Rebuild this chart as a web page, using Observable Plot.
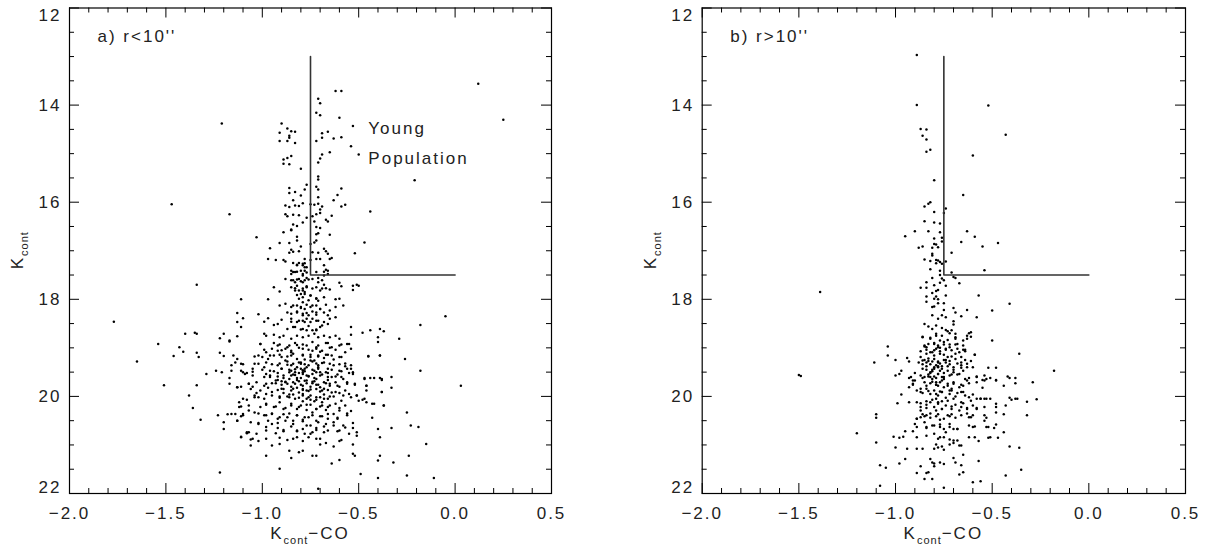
<!DOCTYPE html>
<html><head><meta charset="utf-8">
<script src="https://cdn.jsdelivr.net/npm/d3@7"></script>
<script src="https://cdn.jsdelivr.net/npm/@observablehq/plot@0.6"></script>
<style>
body{margin:0;background:#fff;}
#wrap{position:relative;width:1211px;height:552px;overflow:hidden;background:#fff;}
#wrap > div{position:absolute;top:0;}
#wrap svg text{letter-spacing:2px;}
</style></head><body>
<div id="wrap"><div id="pa" style="left:0px"></div><div id="pb" style="left:605px"></div></div>
<script>
// ---- axes / ticks ----
const xDomain = [-2, 0.5];
const yDomain = [12, 22];
const xMajor = [-2, -1.5, -1, -0.5, 0, 0.5];
const xMinor = [-1.9,-1.8,-1.7,-1.6,-1.4,-1.3,-1.2,-1.1,-0.9,-0.8,-0.7,-0.6,-0.4,-0.3,-0.2,-0.1,0.1,0.2,0.3,0.4];
const yMajor = [12, 14, 16, 18, 20, 22];
const yMinor = [12.5,13,13.5,14.5,15,15.5,16.5,17,17.5,18.5,19,19.5,20.5,21,21.5];
const yMid = [14, 16, 18, 20];
const yTop = [12];
const yBottom = [22];

// ---- selection box (young population) ----
const cutX = [-0.75, -0.75, 0.0];
const cutY = [13, 17.5, 17.5];

// ---- annotations ----
const titleA = ["a) r<10''"];
const titleB = ["b) r>10''"];
const popText = ["Young", "Population"];
const popX = [-0.45, -0.45];
const popY = [14.48, 15.10];

// ---- panel a: r < 10" (K_cont - CO, K_cont) ----
const ptsAUpper = [
[0.12,13.56],[-0.62,13.71],[-0.59,13.71],[-0.71,13.87],[-0.70,13.96],[-0.72,14.16],[-0.70,14.21],[-0.60,14.26],[-0.90,14.38],[-0.53,14.43],[-0.87,14.48],[-0.91,14.57],[-0.85,14.54],[-0.83,14.55],[-0.86,14.63],[-0.86,14.67],[-0.69,14.58],[-0.66,14.55],[-0.69,14.67],[-0.63,14.69],[-0.59,14.66],[-0.91,14.74],[-0.87,14.74],[-0.83,14.78],[-0.72,14.74],[-0.54,14.85],[-0.65,14.97],[-0.69,15.02],[-0.50,15.02],[-0.85,15.05],[-0.87,15.09],[-0.89,15.12],[-0.70,15.10],[-0.71,15.18],[-0.89,15.21],[-0.86,15.22],[-0.80,15.31],[-0.71,15.47],[-0.71,15.53],[-0.21,15.55],[-0.77,15.64],[-0.86,15.71],[-0.86,15.81],[-0.83,15.79],[-0.78,15.74],[-0.80,15.86],[-0.72,15.68],[-0.71,15.74],[-0.71,15.90],[-0.59,15.72],[-0.61,15.85],[-0.63,15.96],[-0.84,15.96],[-0.88,16.07],[-0.86,16.10],[-0.83,16.07],[-0.81,16.08],[-0.79,16.02],[-0.75,16.04],[-0.73,16.05],[-0.71,16.03],[-0.69,16.09],[-0.70,16.15],[-0.59,16.09],[-0.57,16.05],[-0.44,16.19],[-0.88,16.25],[-0.87,16.29],[-0.84,16.26],[-0.81,16.27],[-0.74,16.29],[-0.72,16.25],[-0.70,16.22],[-0.67,16.36],[-0.66,16.40],[-0.64,16.28],[-0.77,16.32],[-0.79,16.42],[-0.84,16.46],[-0.82,16.49],[-0.85,16.56],[-0.73,16.40],[-0.72,16.51],[-0.70,16.53],[-1.17,16.25],[-1.03,16.72],[-0.89,16.62],[-0.85,16.58],[-0.82,16.71],[-0.72,16.66],[-0.71,16.64],[-0.72,16.79],[-0.65,16.67],[-0.91,16.84],[-0.86,16.84],[-0.82,16.79],[-0.75,16.86],[-0.73,16.83],[-0.47,16.83],[-0.96,16.95],[-0.85,16.98],[-0.86,17.04],[-0.84,17.02],[-0.81,17.01],[-0.80,16.91],[-0.71,17.04],[-0.74,17.03],[-0.68,16.96],[-0.67,17.01],[-0.66,17.06],[-0.52,17.05],[-0.97,17.17],[-0.93,17.19],[-0.89,17.19],[-0.78,17.17],[-0.75,17.19],[-0.72,17.17],[-0.70,17.17],[-0.65,17.17],
[0.25,14.30],[-1.21,14.38],[-1.47,16.04]
];
const ptsAMiddle = [
[-0.88,17.22],[-0.64,17.15],[-0.82,17.29],[-0.81,17.25],[-0.79,17.30],[-0.78,17.26],[-0.77,17.34],[-0.68,17.30],[-0.67,17.39],
[-0.84,17.44],[-0.85,17.41],[-0.82,17.43],[-0.79,17.48],[-0.78,17.41],[-0.72,17.44],[-0.68,17.43],[-0.66,17.48],
[-0.88,17.58],[-0.85,17.61],[-0.83,17.65],[-0.82,17.59],[-0.80,17.63],[-0.78,17.61],[-0.77,17.56],[-0.74,17.58],[-0.71,17.56],[-0.69,17.61],[-0.68,17.70],
[-1.34,17.70],[-0.60,17.66],[-0.59,17.73],[-0.53,17.72],[-0.51,17.70],[-0.53,17.81],[-0.50,17.72],
[-0.94,17.75],[-0.91,17.84],[-0.85,17.75],[-0.83,17.77],[-0.81,17.82],[-0.79,17.82],[-0.77,17.73],[-0.74,17.78],[-0.72,17.75],[-0.70,17.82],[-0.67,17.77],[-0.65,17.80],
[-0.82,17.91],[-0.79,17.96],[-0.78,17.89],[-0.75,17.92],[-0.72,17.98],[-0.71,18.03],[-0.68,17.96],
[-1.11,18.00],[-0.97,18.00],[-0.62,18.00],[-0.60,17.99],
[-0.91,18.13],[-0.88,18.09],[-0.85,18.16],[-0.82,18.13],[-0.80,18.18],[-0.77,18.11],[-0.75,18.16],[-0.72,18.13],[-0.70,18.20],[-0.67,18.11],[-0.62,18.16],[-0.58,18.13],
[-0.87,18.27],[-0.85,18.30],[-0.82,18.25],[-0.79,18.33],[-0.77,18.28],[-0.74,18.25],[-0.72,18.32],[-0.68,18.27],[-0.65,18.23],
[-1.13,18.28],[-1.02,18.31],[-0.05,18.35],[-1.10,18.39],[-0.97,18.39],[-0.94,18.53],[-0.92,18.51],
[-0.90,18.42],[-0.85,18.46],[-0.82,18.47],[-0.79,18.44],[-0.77,18.40],[-0.75,18.47],[-0.72,18.44],[-0.68,18.47],[-0.65,18.40],[-0.62,18.37],
[-1.13,18.47],[-1.11,18.57],[-0.99,18.46],
[-0.87,18.61],[-0.84,18.57],[-0.80,18.62],[-0.77,18.64],[-0.74,18.64],[-0.72,18.62],[-0.69,18.54],[-0.66,18.51],
[-0.54,18.57],[-0.48,18.69],[-0.44,18.64],[-0.39,18.61],[-0.37,18.66],[-0.18,18.53],
[-1.40,18.71],[-1.35,18.69],[-1.34,18.71],[-1.22,18.80],[-1.20,18.71],[-1.17,18.85],[-1.13,18.76],
[-0.99,18.71],[-0.98,18.75],[-0.94,18.73],[-0.91,18.78],[-0.89,18.75],[-0.85,18.81],[-0.82,18.75],[-0.79,18.78],[-0.76,18.75],[-0.73,18.71],[-0.71,18.78],[-0.68,18.75],[-0.65,18.78],[-0.62,18.75],[-0.60,18.81],
[-0.54,18.73],[-0.40,18.78],[-0.40,18.88],[-0.29,18.81],
[-1.54,18.92],[-1.43,18.99],[-1.41,19.08],[-1.46,19.17],[-1.34,19.10],[-1.33,19.19],[-1.22,19.10],[-1.20,19.17],[-1.17,18.87],[-1.13,19.23],[-1.11,19.33],[-1.16,19.36],
[-1.01,18.92],[-0.98,19.09],[-0.95,19.02],[-0.92,18.95],[-0.90,19.05],[-0.87,18.99],[-0.85,19.09],[-0.82,18.94],[-0.79,19.02],[-0.77,18.95],[-0.74,19.06],[-0.72,18.99],[-0.70,19.08],[-0.67,18.90],[-0.64,18.99],[-0.60,18.95],[-0.55,18.92],
[-1.02,19.16],[-0.97,19.23],[-0.94,19.16],[-0.90,19.19],[-0.88,19.26],[-0.85,19.16],[-0.82,19.23],[-0.79,19.14],[-0.78,19.24],[-0.75,19.19],[-0.73,19.26],[-0.71,19.16],[-0.68,19.21],[-0.66,19.14],[-0.63,19.24],[-0.60,19.19],
[-0.45,19.17],[-0.39,19.16],[-0.26,19.23],[-0.18,19.47],
[-1.04,19.33],[-0.99,19.40],[-0.96,19.47],[-0.92,19.36],[-0.90,19.43],[-0.87,19.35],[-0.85,19.47],[-0.82,19.40],[-0.80,19.33],[-0.78,19.43],[-0.76,19.36],[-0.73,19.47],[-0.71,19.40],[-0.69,19.31],[-0.66,19.43],[-0.63,19.36],[-0.60,19.47],[-0.57,19.38],[-0.54,19.43],
[-1.29,19.54],[-1.24,19.47],[-1.21,19.50],[-1.16,19.47],[-1.10,19.50],[-1.05,19.49],
[-1.77,18.46],[-1.65,19.28]
];
const ptsAStem = [
[-0.84,17.25],[-0.82,17.30],[-0.79,17.27],[-0.78,17.34],[-0.80,17.41],[-0.83,17.44],[-0.85,17.48],[-0.79,17.51],[-0.77,17.45],[-0.81,17.58],[-0.84,17.61],[-0.79,17.65],[-0.76,17.59],[-0.82,17.72],[-0.79,17.78],[-0.77,17.75],[-0.83,17.82],[-0.80,17.89],[-0.78,17.85],[-0.75,17.92],[-0.81,17.99],[-0.79,18.06],[-0.76,18.02],[-0.84,18.13],[-0.80,18.16],[-0.78,18.20],[-0.74,18.13],[-0.82,18.27],[-0.79,18.30],[-0.76,18.33],[-0.72,18.27],[-0.85,18.40],[-0.81,18.44],[-0.78,18.47],[-0.74,18.40],[-0.71,18.44],[-0.83,18.57],[-0.79,18.61],[-0.76,18.55],[-0.72,18.64],[-0.70,18.57],[-0.68,17.51],[-0.66,17.41],[-0.71,17.65],[-0.69,17.78],[-0.72,17.99],[-0.70,18.20],[-0.66,18.33]
];
const ptsALower = [
[-1.51,19.77],[-1.34,19.77],[-1.38,19.98],[-1.36,20.24],[-1.32,20.48],
[-1.17,19.62],[-1.17,19.74],[-1.13,19.81],[-1.11,19.80],
[-1.08,19.52],[-1.05,19.57],[-1.07,19.74],[-1.05,19.80],[-1.03,19.93],[-1.02,20.02],[-1.04,19.98],
[-1.12,20.12],[-1.11,20.21],[-1.08,20.07],[-1.07,20.29],[-1.10,20.36],[-1.11,20.41],
[-1.23,20.39],[-1.20,20.53],[-1.20,20.67],[-1.18,20.37],[-1.16,20.36],[-1.13,20.50],
[-1.11,20.83],[-1.06,20.89],[-1.06,21.01],[-1.02,20.92],[-1.07,20.74],[-1.08,20.76],
[-0.98,19.54],[-0.96,19.60],[-0.92,19.52],[-0.89,19.57],[-0.86,19.50],[-0.84,19.55],[-0.81,19.52],[-0.79,19.50],[-0.77,19.57],[-0.74,19.54],[-0.72,19.50],[-0.69,19.55],[-0.66,19.52],[-0.64,19.60],[-0.61,19.55],[-0.59,19.60],[-0.55,19.52],[-0.53,19.50],
[-0.99,19.78],[-0.95,19.73],[-0.93,19.67],[-0.90,19.76],[-0.88,19.71],[-0.85,19.80],[-0.83,19.74],[-0.81,19.69],[-0.79,19.78],[-0.77,19.73],[-0.75,19.80],[-0.73,19.69],[-0.72,19.76],[-0.70,19.81],[-0.67,19.73],[-0.65,19.78],[-0.62,19.71],[-0.60,19.80],[-0.56,19.74],
[-0.52,19.76],[-0.47,19.64],[-0.44,19.62],[-0.39,19.62],[-0.38,19.66],[-0.33,19.60],[-0.46,19.78],[-0.33,19.82],[-0.38,19.91],[0.03,19.78],
[-0.98,19.95],[-0.95,19.91],[-0.91,20.00],[-0.89,19.93],[-0.86,20.02],[-0.84,19.96],[-0.81,20.03],[-0.79,19.95],[-0.77,20.05],[-0.75,19.98],[-0.72,20.07],[-0.70,20.02],[-0.68,19.96],[-0.66,20.05],[-0.63,20.00],[-0.60,19.93],[-0.58,19.98],
[-0.54,20.02],[-0.51,19.98],[-0.48,20.07],[-0.46,20.12],[-0.43,20.15],[-0.37,20.19],
[-0.98,20.15],[-0.94,20.22],[-0.91,20.12],[-0.88,20.24],[-0.85,20.15],[-0.82,20.26],[-0.80,20.19],[-0.77,20.28],[-0.75,20.17],[-0.72,20.26],[-0.70,20.21],[-0.67,20.28],[-0.65,20.19],[-0.62,20.15],[-0.60,20.24],
[-1.02,20.35],[-0.98,20.39],[-0.95,20.35],[-0.92,20.46],[-0.89,20.37],[-0.87,20.43],[-0.84,20.50],[-0.82,20.39],[-0.79,20.48],[-0.76,20.43],[-0.74,20.39],[-0.72,20.50],[-0.69,20.41],[-0.66,20.46],[-0.63,20.36],[-0.61,20.46],[-0.56,20.35],[-0.54,20.30],
[-0.43,20.44],[-0.25,20.33],
[-1.02,20.55],[-0.98,20.63],[-0.95,20.57],[-0.92,20.65],[-0.89,20.69],[-0.85,20.62],[-0.82,20.72],[-0.79,20.67],[-0.77,20.60],[-0.74,20.74],[-0.72,20.65],[-0.68,20.62],[-0.66,20.70],[-0.63,20.60],[-0.60,20.70],[-0.57,20.64],[-0.53,20.65],
[-0.51,20.81],[-0.39,20.84],[-0.33,20.65],[-0.23,20.60],[-0.19,20.63],[-0.15,20.98],
[-0.98,21.22],[-0.95,21.01],[-0.91,20.98],[-0.87,20.90],[-0.82,20.84],[-0.79,20.92],[-0.75,20.77],[-0.72,20.87],[-0.70,20.99],[-0.67,20.96],[-0.63,21.03],[-0.60,20.92],[-0.53,20.99],
[-0.91,21.49],[-0.86,21.12],[-0.85,21.27],[-0.81,21.15],[-0.79,21.12],[-0.74,21.22],[-0.72,21.22],[-0.64,21.38],[-0.60,21.31],[-0.53,21.18],[-0.52,21.22],[-0.49,21.60],[-0.40,21.32],[-0.39,21.22],[-0.32,21.36],[-0.24,21.22],[-0.40,21.68],[-0.25,21.63],[-0.11,21.68],[-1.22,21.57],[-0.71,21.90]
];
const ptsACore = [
[-0.80,19.62],[-0.78,19.68],[-0.76,19.58],[-0.82,19.66],[-0.79,19.85],[-0.77,19.88],[-0.81,19.92],[-0.74,19.70],[-0.75,19.86],[-0.83,19.56],[-0.86,19.64],[-0.72,19.64],[-0.70,19.90],[-0.68,19.84],[-0.73,20.10],[-0.76,20.02],[-0.79,20.10],[-0.84,19.84],[-0.88,19.70],[-0.90,19.84],[-0.92,19.66],[-0.86,19.96],[-0.66,19.66],[-0.64,19.92],[-0.69,20.12],[-0.71,19.36],[-0.77,19.40],[-0.80,19.30],[-0.85,19.36],[-0.74,19.28],[-0.70,19.50],[-0.79,19.46],[-0.83,19.44],
[-1.01,18.92],[-0.94,18.90],[-0.91,18.93],[-0.86,18.95],[-0.83,18.90],[-0.79,18.93],[-0.74,18.88],[-0.71,18.95],[-0.66,18.90],[-0.59,18.93],[-0.56,18.92],
[-0.99,19.04],[-0.92,19.06],[-0.88,19.02],[-0.85,19.06],[-0.81,19.00],[-0.76,19.04],[-0.72,19.02],[-0.69,19.06],[-0.65,19.00],[-0.62,19.04],[-0.57,19.09],[-0.54,19.02],
[-1.15,19.16],[-1.04,19.18],[-1.00,19.19],[-0.96,19.16],[-0.91,19.14],[-0.87,19.18],[-0.84,19.12],[-0.79,19.16],[-0.75,19.14],[-0.71,19.18],[-0.67,19.14],[-0.64,19.16],[-0.59,19.19],[-0.45,19.18],[-0.39,19.16],
[-1.14,19.30],[-1.10,19.34],[-1.02,19.33],[-0.98,19.30],[-0.95,19.34],[-0.91,19.32],[-0.87,19.28],[-0.84,19.33],[-0.81,19.30],[-0.78,19.34],[-0.75,19.26],[-0.72,19.32],[-0.68,19.30],[-0.65,19.33],[-0.60,19.34],[-0.57,19.32],[-0.54,19.36],
[-1.11,19.47],[-1.05,19.43],[-1.00,19.45],[-0.94,19.48],[-0.90,19.43],[-0.86,19.45],[-0.83,19.50],[-0.80,19.43],[-0.78,19.48],[-0.74,19.45],[-0.71,19.43],[-0.67,19.50],[-0.64,19.45],[-0.59,19.48],[-0.56,19.43],[-0.53,19.54],
[-1.09,19.54],[-0.99,19.60],[-0.96,19.57],[-0.92,19.59],[-0.89,19.62],[-0.85,19.57],[-0.82,19.62],[-0.79,19.54],[-0.76,19.59],[-0.73,19.62],[-0.70,19.57],[-0.66,19.60],[-0.62,19.59],[-0.58,19.64],[-0.47,19.62],[-0.42,19.62],[-0.38,19.64],
[-1.07,19.74],[-1.03,19.71],[-0.98,19.74],[-0.93,19.73],[-0.90,19.69],[-0.87,19.74],[-0.84,19.71],[-0.80,19.76],[-0.77,19.67],[-0.74,19.73],[-0.71,19.76],[-0.68,19.71],[-0.65,19.74],[-0.61,19.78],[-0.56,19.71],[-0.52,19.74],[-0.46,19.78],
[-1.13,19.81],[-1.06,19.85],[-1.01,19.88],[-0.97,19.82],[-0.92,19.87],[-0.89,19.85],[-0.85,19.88],[-0.82,19.82],[-0.79,19.87],[-0.76,19.89],[-0.72,19.85],[-0.69,19.88],[-0.66,19.87],[-0.62,19.91],[-0.57,19.88],[-0.55,19.95],[-0.51,19.98],[-0.46,19.88],[-0.38,19.91],
[-1.10,20.05],[-1.04,20.02],[-0.99,20.05],[-0.95,19.98],[-0.91,20.03],[-0.87,20.00],[-0.83,20.05],[-0.79,19.98],[-0.75,20.07],[-0.72,20.02],[-0.68,20.05],[-0.65,20.00],[-0.59,20.09],[-0.50,20.09],[-0.47,20.05],[-0.42,20.15],
[-1.12,20.22],[-1.07,20.19],[-1.01,20.22],[-0.98,20.17],[-0.93,20.21],[-0.89,20.26],[-0.85,20.19],[-0.81,20.22],[-0.77,20.17],[-0.72,20.26],[-0.69,20.19],[-0.66,20.22],[-0.60,20.29],[-0.57,20.19],[-0.37,20.19],
[-1.14,20.36],[-1.10,20.39],[-1.04,20.33],[-0.99,20.39],[-0.95,20.36],[-0.91,20.43],[-0.86,20.35],[-0.82,20.39],[-0.78,20.43],[-0.74,20.33],[-0.70,20.41],[-0.66,20.36],[-0.61,20.44],[-0.56,20.39],
[-1.13,20.50],[-1.06,20.53],[-1.02,20.57],[-0.97,20.50],[-0.92,20.55],[-0.88,20.50],[-0.84,20.57],[-0.79,20.51],[-0.75,20.60],[-0.71,20.53],[-0.67,20.57],[-0.63,20.53],[-0.58,20.60],[-0.53,20.55],
[-1.08,20.74],[-1.03,20.77],[-0.98,20.70],[-0.93,20.76],[-0.89,20.72],[-0.82,20.70],[-0.78,20.77],[-0.72,20.69],[-0.68,20.74],[-0.61,20.72],[-0.55,20.77],[-0.51,20.74],[-0.40,20.67],
[-1.11,20.84],[-1.05,20.87],[-0.98,20.87],[-0.91,20.85],[-0.84,20.87],[-0.76,20.84],[-0.70,20.87],[-0.59,20.90]
];

// ---- panel b: r > 10" ----
const ptsBUpper = [
[-0.89,12.97],[-0.89,14.00],[-0.52,14.01],[-0.87,14.49],[-0.84,14.50],[-0.86,14.63],[-0.84,14.71],[-0.43,14.61],[-0.84,14.96],[-0.82,14.92],[-0.60,15.04],[-0.80,15.55],[-0.65,15.85],[-0.85,16.09],[-0.83,16.03],[-0.82,16.00],[-0.80,16.20],[-0.75,16.22],[-0.74,16.13],[-0.85,16.39],[-0.80,16.42],[-0.77,16.44],[-0.95,16.70],[-0.90,16.60],[-0.83,16.60],[-0.77,16.62],[-0.63,16.60],[-0.59,16.71],[-0.80,16.75],[-0.76,16.73],[-0.76,16.81],[-0.66,16.82],[-0.47,16.84],[-0.55,16.91],[-0.88,16.94],[-0.86,16.91],[-0.81,16.94],[-0.80,16.86],[-0.79,16.87],[-0.78,16.93],[-0.81,17.06],[-0.81,17.10],[-0.71,17.04],[-0.85,17.18],[-0.82,17.21],[-0.79,17.19],[-0.78,17.20],[-0.77,17.23],[-0.76,17.27],[-0.74,17.22],[-0.79,17.26],[-0.82,17.38],[-0.77,17.41],[-0.54,17.40],[-0.77,17.50],[-0.76,17.57],[-0.71,17.45],[-0.70,17.54],[-0.69,17.56],[-0.84,17.65],[-0.81,17.56],[-0.80,17.71],[-0.77,17.66],[-0.75,17.61],[-0.74,17.72],[-0.67,17.67],[-0.87,17.76],[-0.84,17.76],[-0.81,17.87],[-0.79,17.83],[-0.78,17.81],[-0.74,17.92],[-0.79,17.94],[-0.78,18.00],[-0.57,17.92],[-1.39,17.85]
];
const ptsBLower = [
[-0.84,17.94],[-0.80,17.99],[-0.84,18.05],[-0.78,18.08],[-0.75,18.08],[-0.41,18.09],[-0.50,18.23],[-0.58,18.37],
[-0.81,18.16],[-0.80,18.15],[-0.75,18.22],[-0.76,18.33],[-0.74,18.37],[-0.70,18.18],[-0.69,18.27],[-0.66,18.35],[-0.63,18.22],
[-0.81,18.33],[-0.78,18.40],[-0.70,18.45],[-0.70,18.52],
[-0.85,18.51],[-0.83,18.56],[-0.79,18.54],[-0.81,18.61],[-0.76,18.59],[-0.74,18.63],[-0.71,18.64],[-0.73,18.66],[-0.69,18.71],[-0.62,18.70],[-0.61,18.77],
[-0.86,18.78],[-0.82,18.81],[-0.79,18.75],[-0.77,18.85],[-0.73,18.84],[-0.69,18.81],[-0.65,18.85],[-0.63,18.81],[-0.50,18.85],
[-0.85,18.97],[-0.84,18.99],[-0.80,18.92],[-0.78,18.99],[-0.75,18.93],[-0.74,19.02],[-0.72,18.99],[-0.69,18.93],[-0.68,19.02],[-0.65,19.04],[-0.64,19.07],
[-1.04,18.97],[-1.04,19.16],[-1.00,19.25],[-1.11,19.30],[-0.94,19.21],[-0.93,19.28],[-0.87,19.19],[-0.86,19.26],[-0.86,19.34],
[-0.59,19.14],[-0.36,19.12],[-0.60,19.40],[-0.52,19.41],[-0.48,19.41],
[-0.84,19.12],[-0.81,19.09],[-0.80,19.16],[-0.77,19.12],[-0.75,19.14],[-0.73,19.19],[-0.71,19.18],[-0.69,19.12],[-0.66,19.19],[-0.64,19.25],
[-0.84,19.30],[-0.82,19.34],[-0.81,19.28],[-0.79,19.36],[-0.77,19.32],[-0.76,19.38],[-0.74,19.30],[-0.72,19.34],[-0.70,19.40],[-0.68,19.32],[-0.66,19.36],[-0.63,19.33],
[-0.84,19.45],[-0.82,19.50],[-0.80,19.43],[-0.78,19.54],[-0.77,19.47],[-0.75,19.52],[-0.73,19.47],[-0.71,19.55],[-0.70,19.50],[-0.67,19.54],[-0.65,19.47],
[-1.00,19.57],[-0.98,19.54],[-0.97,19.47],[-0.93,19.62],[-0.91,19.67],[-0.90,19.52],[-0.87,19.57],[-0.86,19.62],[-0.85,19.71],[-0.83,19.59],[-0.81,19.64],
[-1.50,19.56],[-1.49,19.58],[-0.18,19.47],
[-0.79,19.71],[-0.78,19.78],[-0.76,19.67],[-0.75,19.81],[-0.73,19.74],[-0.71,19.84],[-0.70,19.71],[-0.67,19.81],[-0.65,19.78],[-0.63,19.67],[-0.62,19.62],
[-0.58,19.60],[-0.55,19.66],[-0.53,19.64],[-0.51,19.62],[-0.48,19.66],[-0.44,19.78],[-0.42,19.59],[-0.41,19.62],[-0.38,19.62],[-0.38,19.73],[-0.29,19.71],[-0.55,19.82],
[-0.93,19.81],[-0.91,19.74],[-0.89,19.88],[-0.87,19.91],[-0.84,19.84],[-0.82,19.95],
[-0.80,19.88],[-0.78,19.98],[-0.76,19.91],[-0.74,20.03],[-0.72,19.95],[-0.71,19.88],[-0.69,20.00],[-0.66,19.91],[-0.64,19.98],[-0.62,20.02],
[-0.58,20.05],[-0.56,20.05],[-0.54,20.05],[-0.51,20.05],[-0.48,20.15],[-0.41,20.03],[-0.40,20.07],[-0.38,20.05],[-0.37,20.05],[-0.32,20.11],[-0.27,20.06],
[-0.97,19.96],[-0.99,20.14],[-0.93,20.12],[-0.87,20.14],[-0.87,20.22],
[-0.84,20.17],[-0.82,20.12],[-0.80,20.22],[-0.78,20.15],[-0.76,20.26],[-0.74,20.19],[-0.71,20.26],[-0.69,20.17],[-0.66,20.22],[-0.65,20.14],[-0.63,20.24],[-0.60,20.19],[-0.58,20.26],[-0.54,20.22],
[-0.63,20.35],[-0.62,20.43],[-0.60,20.39],[-0.54,20.39],[-0.48,20.33],[-0.44,20.37],[-0.32,20.39],[-1.10,20.37],[-1.10,20.44],
[-0.89,20.46],[-0.87,20.43],[-0.86,20.37],[-0.84,20.39],[-0.82,20.35],[-0.79,20.41],[-0.78,20.37],[-0.75,20.46],[-0.72,20.41],[-0.71,20.37],
[-0.90,20.57],[-0.85,20.53],[-0.84,20.63],[-0.80,20.60],[-0.77,20.58],[-0.75,20.67],[-0.72,20.63],[-0.70,20.67],[-0.68,20.67],[-0.74,20.74],[-0.60,20.63],[-0.59,20.62],[-0.54,20.50],[-0.52,20.63],[-0.49,20.65],
[-0.95,20.72],[-0.91,20.72],[-0.89,20.84],[-0.84,20.81],[-0.80,20.77],[-0.78,20.87],[-0.77,20.84],[-0.75,20.84],[-0.72,20.89],[-0.70,20.91],[-0.68,20.91],
[-1.01,20.83],[-0.98,20.85],[-0.96,20.83],[-1.00,21.05],[-0.94,21.08],[-0.89,21.08],[-0.86,21.08],
[-0.62,20.84],[-0.59,20.84],[-0.57,20.92],[-0.52,20.85],[-0.51,20.84],[-0.47,20.85],[-0.44,20.74],[-0.41,21.03],[-0.36,21.06],[-1.10,20.95],[-1.20,20.76],
[-0.79,20.99],[-0.76,21.03],[-0.72,20.99],[-0.70,20.96],[-0.67,21.01],[-0.66,21.01],[-0.80,21.08],[-0.78,21.05],[-0.75,21.10],
[-0.82,21.29],[-0.81,21.36],[-0.80,21.38],[-0.77,21.36],[-0.75,21.39],[-0.70,21.27],[-0.69,21.36],[-0.66,21.42],[-0.65,21.20],[-0.57,21.33],
[-1.08,21.42],[-1.05,21.47],[-0.98,21.38],[-0.95,21.29],
[-0.89,21.58],[-0.84,21.58],[-0.83,21.56],[-0.87,21.44],[-0.80,21.44],[-0.85,21.70],[-0.81,21.70],[-0.67,21.61],[-0.65,21.56],[-0.60,21.77],[-0.56,21.75],[-0.43,21.63],[-0.35,21.51],
[-1.08,21.84],[-0.75,21.88]
];
const ptsBCore = [
[-0.80,19.40],[-0.78,19.38],[-0.82,19.52],[-0.76,19.60],[-0.79,19.62],[-0.81,19.70],[-0.77,19.90],[-0.79,19.76],[-0.75,19.64],[-0.83,19.22],[-0.80,19.05],[-0.77,19.00],[-0.74,19.25],[-0.82,19.60],[-0.79,20.05],[-0.76,20.10],[-0.81,19.48],[-0.78,19.28],
[-0.86,18.77],[-0.82,18.79],[-0.79,18.71],[-0.76,18.75],[-0.72,18.70],[-0.69,18.78],[-0.63,18.75],[-0.61,18.68],
[-0.85,18.95],[-0.83,18.92],[-0.80,18.90],[-0.78,18.95],[-0.75,18.88],[-0.72,18.93],[-0.68,18.92],[-0.65,18.95],
[-0.87,19.07],[-0.84,19.04],[-0.82,19.09],[-0.79,19.02],[-0.77,19.07],[-0.74,19.04],[-0.71,19.05],[-0.67,19.09],[-0.64,19.04],[-0.59,19.14],
[-0.88,19.30],[-0.85,19.25],[-0.83,19.27],[-0.80,19.23],[-0.78,19.30],[-0.75,19.25],[-0.72,19.27],[-0.69,19.23],[-0.66,19.30],[-0.61,19.27],
[-0.86,19.43],[-0.84,19.38],[-0.81,19.45],[-0.78,19.40],[-0.76,19.43],[-0.73,19.38],[-0.70,19.45],[-0.66,19.41],[-0.63,19.40],
[-0.85,19.60],[-0.83,19.55],[-0.80,19.59],[-0.78,19.54],[-0.75,19.60],[-0.72,19.57],[-0.68,19.55],[-0.64,19.64],[-0.58,19.59],[-0.54,19.57],[-0.92,19.60],[-0.90,19.67],
[-0.84,19.78],[-0.82,19.73],[-0.79,19.76],[-0.77,19.71],[-0.73,19.78],[-0.70,19.74],[-0.66,19.76],[-0.62,19.73],[-0.58,19.71],[-0.54,19.67],[-0.48,19.67],[-0.91,19.76],
[-0.86,19.93],[-0.83,19.89],[-0.79,19.95],[-0.76,19.91],[-0.72,19.88],[-0.68,19.93],[-0.65,19.91],[-0.60,19.96],[-0.87,19.84],
[-0.89,20.12],[-0.84,20.10],[-0.81,20.07],[-0.78,20.12],[-0.73,20.09],[-0.70,20.05],[-0.66,20.12],[-0.61,20.09],[-0.56,20.05],[-0.53,20.05],
[-0.87,20.29],[-0.84,20.24],[-0.79,20.29],[-0.76,20.26],[-0.71,20.21],[-0.67,20.29],[-0.63,20.26],[-0.58,20.24],[-0.48,20.22],[-0.43,20.19],
[-0.89,20.46],[-0.85,20.41],[-0.82,20.44],[-0.77,20.48],[-0.73,20.39],[-0.69,20.44],[-0.66,20.39],[-0.61,20.43],[-0.53,20.44],
[-0.89,20.63],[-0.84,20.65],[-0.81,20.60],[-0.77,20.63],[-0.72,20.57],[-0.68,20.67],[-0.62,20.60],[-0.53,20.63],[-0.48,20.58]
];

const FONT = "'Liberation Sans', Arial, sans-serif";
const INK = "#222";
const fmtX = d => (d < 0 ? "\u2212" : "") + Math.abs(d).toFixed(1);

function panel(el, pts, title, showPop, W, ml, mr) {
  const H = 552, mt = 7.5, mb = 59;
  const fw = W - ml - mr, fh = H - mt - mb;
  const marks = [
    Plot.dot(pts, {x: d => d[0], y: d => d[1], r: 1.25, fill: "#000", stroke: "none"}),
    Plot.line(cutX.map((x, i) => [x, cutY[i]]), {x: d => d[0], y: d => d[1], stroke: "#333", strokeWidth: 1.6}),
    Plot.frame({stroke: "#000", strokeWidth: 1.2}),
    // inward ticks, bottom & top
    Plot.tickX(xMajor, {x: d => d, insetTop: fh - 10, stroke: "#000"}),
    Plot.tickX(xMajor, {x: d => d, insetBottom: fh - 10, stroke: "#000"}),
    Plot.tickX(xMinor, {x: d => d, insetTop: fh - 5, stroke: "#000"}),
    Plot.tickX(xMinor, {x: d => d, insetBottom: fh - 5, stroke: "#000"}),
    // inward ticks, left & right
    Plot.tickY(yMajor, {y: d => d, insetRight: fw - 10, stroke: "#000"}),
    Plot.tickY(yMajor, {y: d => d, insetLeft: fw - 10, stroke: "#000"}),
    Plot.tickY(yMinor, {y: d => d, insetRight: fw - 5, stroke: "#000"}),
    Plot.tickY(yMinor, {y: d => d, insetLeft: fw - 5, stroke: "#000"}),
    Plot.axisX(xMajor, {tickSize: 0, tickPadding: 13, tickFormat: fmtX, label: null, fontSize: 17, fill: INK}),
    Plot.axisY(yMid, {anchor: "left", tickSize: 0, tickPadding: 8, label: null, fontSize: 17, fill: INK}),
    Plot.axisY(yTop, {anchor: "left", tickSize: 0, tickPadding: 8, label: null, fontSize: 17, fill: INK, dy: 8}),
    Plot.axisY(yBottom, {anchor: "left", tickSize: 0, tickPadding: 8, label: null, fontSize: 17, fill: INK, dy: -6}),
    Plot.text(title, {text: d => d, frameAnchor: "top-left", dx: 28, dy: 28.5, textAnchor: "start", lineAnchor: "middle", fontSize: 17, fill: INK})
  ];
  if (showPop) {
    marks.push(Plot.text(popText, {x: (d, i) => popX[i], y: (d, i) => popY[i], text: d => d, textAnchor: "start", fontSize: 17, fill: INK}));
  }
  const svg = Plot.plot({
    width: W, height: H,
    marginLeft: ml, marginRight: mr, marginTop: mt, marginBottom: mb,
    x: {domain: xDomain},
    y: {domain: yDomain, reverse: true},
    style: {fontFamily: FONT, fontSize: "17px", color: INK, background: "#fff", overflow: "visible"},
    marks
  });
  const s = d3.select(svg);
  // x title: K_cont - CO
  const xt = s.append("text").attr("x", ml + fw / 2).attr("y", H - 13)
    .attr("text-anchor", "middle").attr("fill", INK).style("font-family", FONT).style("font-size", "17px");
  xt.append("tspan").text("K");
  xt.append("tspan").attr("dy", 5).style("font-size", "11px").style("letter-spacing", "1px").text("cont");
  xt.append("tspan").attr("dy", -5).text("\u2212CO");
  // y title: K_cont
  const yt = s.append("text").attr("transform", `translate(${ml - 46},${mt + fh / 2}) rotate(-90)`)
    .attr("text-anchor", "middle").attr("fill", INK).style("font-family", FONT).style("font-size", "17px");
  yt.append("tspan").text("K");
  yt.append("tspan").attr("dy", 5).style("font-size", "11px").style("letter-spacing", "1px").text("cont");
  el.appendChild(svg);
}

panel(document.getElementById("pa"), [...ptsAUpper, ...ptsAMiddle, ...ptsAStem, ...ptsALower, ...ptsACore], titleA, true, 605, 69, 54);
panel(document.getElementById("pb"), [...ptsBUpper, ...ptsBLower, ...ptsBCore], titleB, false, 606, 96.7, 26);
</script>
</body></html>
